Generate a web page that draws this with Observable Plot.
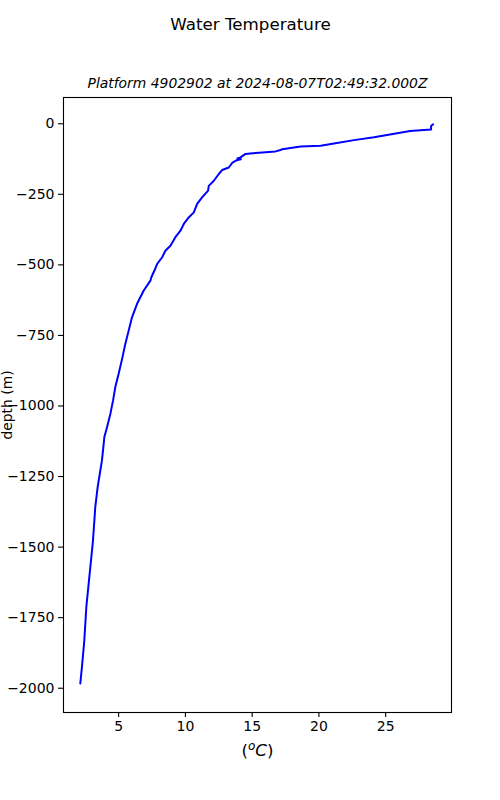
<!DOCTYPE html>
<html>
<head>
<meta charset="utf-8">
<script src="https://cdn.jsdelivr.net/npm/d3@7"></script>
<script src="https://cdn.jsdelivr.net/npm/@observablehq/plot@0.6"></script>
<style>
  html, body { margin: 0; padding: 0; background: white; }
</style>
</head>
<body>
<div id="chart"></div>
<script>
const title = "Water Temperature";
const subtitle = "Platform 4902902 at 2024-08-07T02:49:32.000Z";
const xLabel = "(oC)";
const yLabel = "depth (m)";
const xTicks = [5, 10, 15, 20, 25];
const yTicks = [0, -250, -500, -750, -1000, -1250, -1500, -1750, -2000];

// temperature (°C) and depth (m), read from the profile, surface to bottom
const temperature = [28.55, 28.4, 28.4, 26.83, 24.13, 22.63, 21.13, 20.13, 18.63, 17.26, 17.13, 16.75, 15.25, 14.5, 14.13, 13.9, 14.15, 13.85, 13.5, 13.25, 12.75, 12.5, 12.13, 11.75, 11.7, 11.25, 10.88, 10.63, 10.25, 9.88, 9.63, 9.25, 8.88, 8.5, 8.26, 7.88, 7.68, 7.45, 7.38, 6.88, 6.38, 6.0, 5.75, 5.5, 5.26, 5.0, 4.75, 4.58, 4.38, 4.13, 3.93, 3.83, 3.75, 3.43, 3.25, 3.08, 2.83, 2.58, 2.43, 2.25, 2.13];
const depth = [-2, -8, -20, -26, -48, -58, -70, -78, -81, -90, -93, -98, -104, -107, -119, -123, -126, -129, -139, -155, -164, -178, -202, -220, -237, -261, -284, -314, -332, -355, -379, -402, -432, -450, -473, -497, -520, -544, -556, -591, -638, -686, -733, -780, -833, -886, -933, -981, -1028, -1075, -1110, -1157, -1193, -1287, -1358, -1476, -1594, -1712, -1830, -1925, -1983];

const profile = temperature.map((t, i) => ({t, d: depth[i]}));

const chart = Plot.plot({
  width: 500,
  height: 800,
  marginLeft: 63,
  marginRight: 49,
  marginTop: 97,
  marginBottom: 88,
  style: {fontFamily: "DejaVu Sans", fontSize: "14px", color: "black", background: "white", overflow: "visible"},
  x: {domain: [0.87, 29.93]},
  y: {domain: [-2086, 93]},
  marks: [
    Plot.frame({stroke: "black", strokeWidth: 1.1}),
    Plot.axisX({ticks: xTicks, tickFormat: d3.format("d"), tickSize: 5, tickPadding: 4, label: null, fontSize: 14, strokeWidth: 1.1}),
    Plot.axisY({ticks: yTicks, tickFormat: d3.format("d"), tickSize: 5, tickPadding: 4, label: null, fontSize: 14, strokeWidth: 1.1}),
    Plot.line(profile, {x: "t", y: "d", stroke: "#0000ff", strokeWidth: 2}),
    Plot.text([title], {frameAnchor: "top", dx: -7, dy: -73, fontSize: 16.7, lineAnchor: "middle"}),
    Plot.text([subtitle], {frameAnchor: "top", dy: -14, fontSize: 13.9, fontStyle: "italic", lineAnchor: "middle"}),
    Plot.text([xLabel], {frameAnchor: "bottom", dy: 38, fontSize: 16.7, lineAnchor: "middle", className: "xlab"}),
    Plot.text([yLabel], {frameAnchor: "left", dx: -56, rotate: -90, textAnchor: "middle", fontSize: 13.9, lineAnchor: "middle"})
  ]
});

d3.select(chart).select(".xlab text")
  .text(null)
  .call(t => {
    t.append("tspan").text("(");
    t.append("tspan").attr("font-style", "italic").attr("font-size", 12).attr("dy", -6).text("o");
    t.append("tspan").attr("font-style", "italic").attr("dy", 6).text("C");
    t.append("tspan").text(")");
  });

document.getElementById("chart").appendChild(chart);
</script>
</body>
</html>
